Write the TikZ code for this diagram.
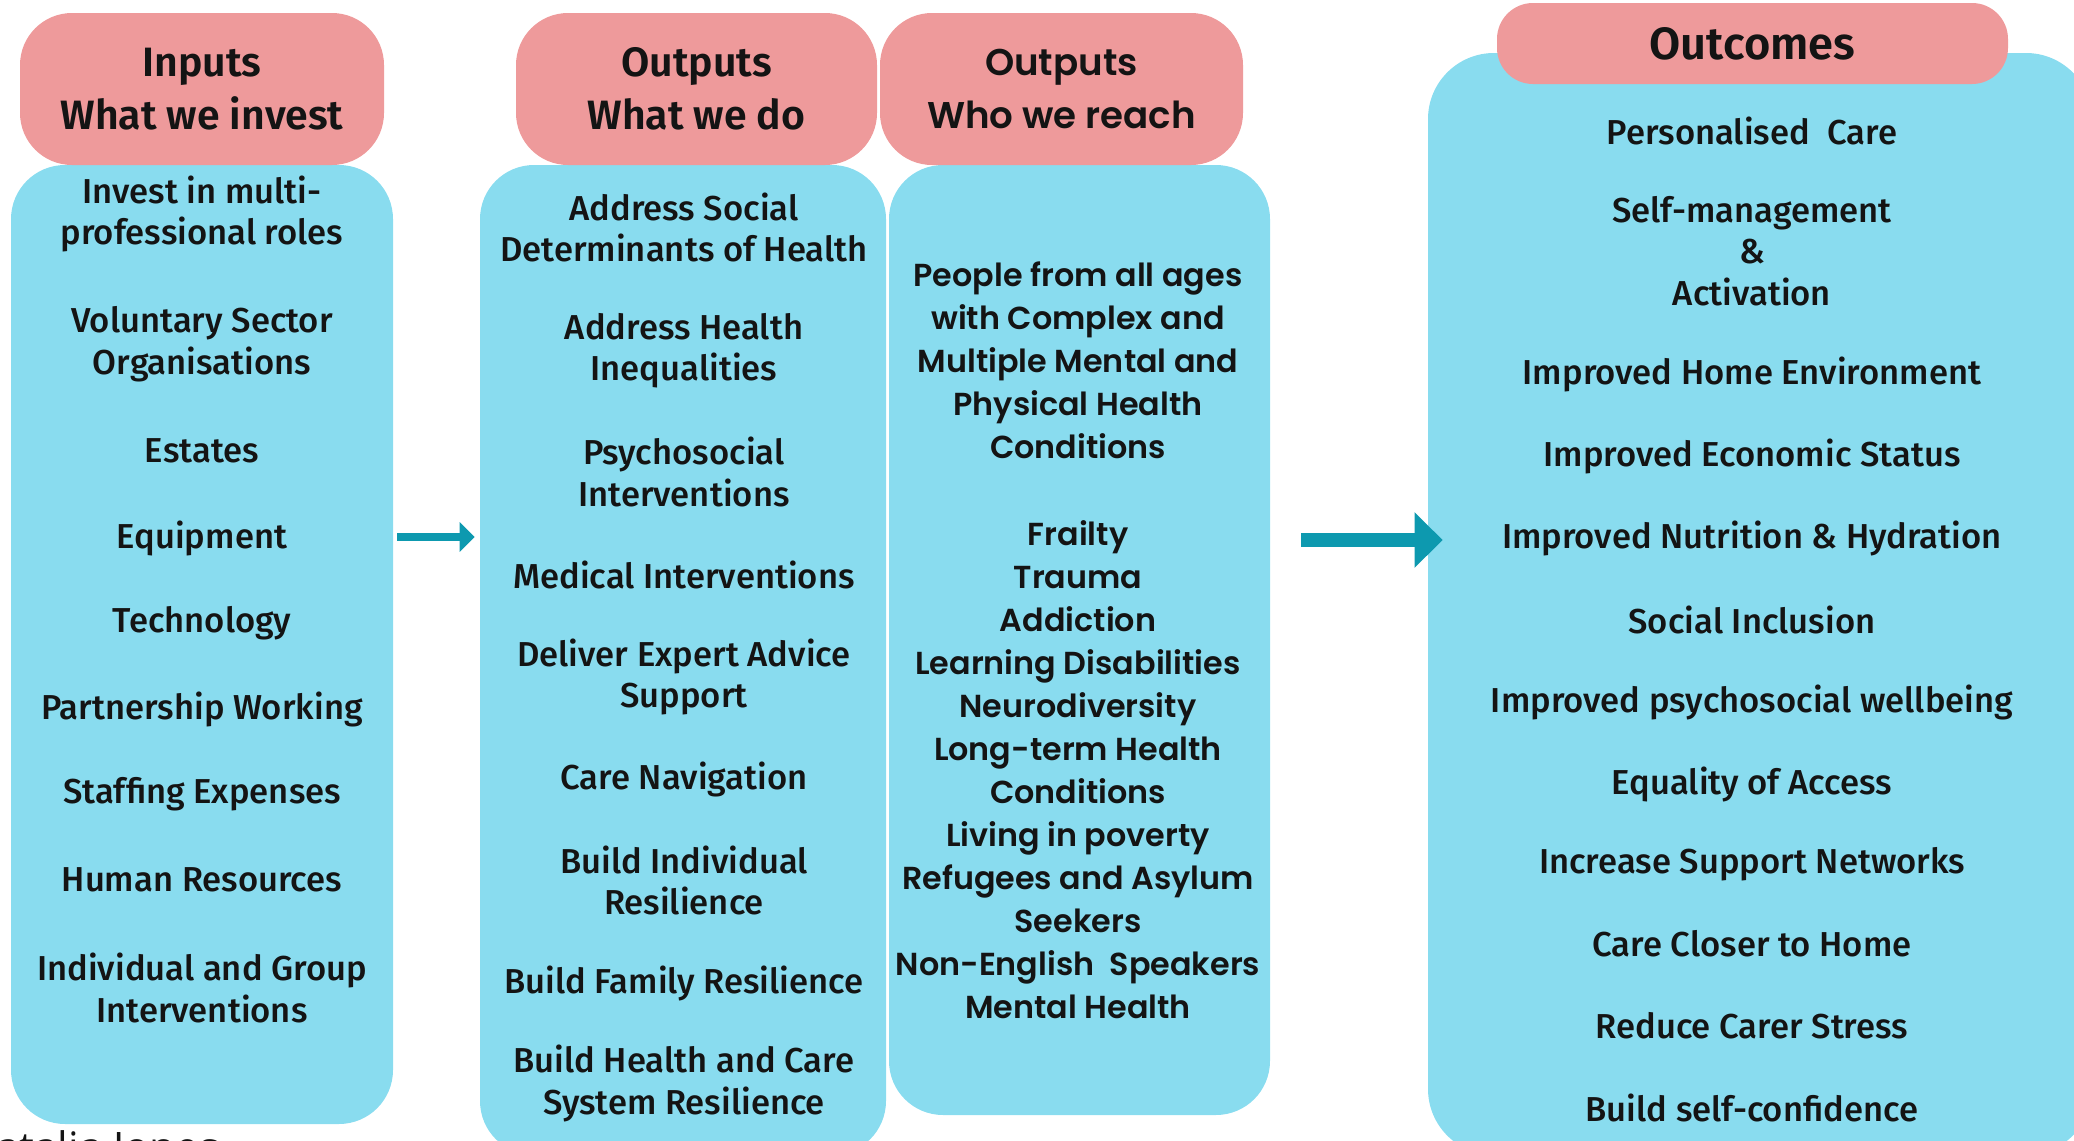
\documentclass[tikz,border=0pt]{standalone}
\usepackage{fontspec}
\setmainfont{Fira Sans}
\newfontfamily\condfont{Fira Sans Medium}
\newfontfamily\headfont{Fira Sans SemiBold}
\newfontfamily\geofont{Poppins SemiBold}
\newfontfamily\geohead{Poppins SemiBold}
\newfontfamily\signfont{Open Sans}
\usetikzlibrary{arrows.meta}
\definecolor{headpink}{HTML}{EE9A9B}
\definecolor{bodyblue}{HTML}{89DCEF}
\definecolor{arrowteal}{HTML}{0D99AF}
\definecolor{ink}{HTML}{141414}

\begin{document}
\begin{tikzpicture}[x=0.5pt, y=-0.5pt]
			\tikzset{head/.style={fill=headpink, rounded corners=26pt, inner sep=0pt, align=center, text=ink, font=\headfont\fontsize{20.5}{26.5}\selectfont},
			body/.style={fill=bodyblue, rounded corners=27pt, inner sep=0pt},
			item/.style={align=center, text=ink, inner sep=0pt, font=\condfont\fontsize{17.3}{20.75}\selectfont},
			geoitem/.style={item, font=\geofont\fontsize{15.9}{21.5}\selectfont},
			f/.style={-{Triangle[length=7.5pt, width=14.5pt]}, line width=4pt, draw=arrowteal},
			bigf/.style={-{Triangle[length=14pt, width=27pt]}, line width=7pt, draw=arrowteal}};

			\useasboundingbox (0,0) rectangle (2074,1141);
			\clip (0,0) rectangle (2074,1141);

			% the four columns
			\node[body, minimum width=191pt, minimum height=479.5pt] (inputs) at (202,644.5) {};
			\node[body, minimum width=203pt, minimum height=495pt] (doing) at (683,660) {};
			\node[body, minimum width=190.5pt, minimum height=475pt] (reach) at (1079.5,640) {};
			\node[body, rounded corners=33pt, minimum width=332pt, minimum height=551pt] (outcomes) at (1760,604) {};

			\node[head, minimum width=182pt, minimum height=76pt] (inputshead) at (202,89) {Inputs\\What we invest};
			\node[head, minimum width=180.5pt, minimum height=76pt] (doinghead) at (696.5,89) {Outputs\\What we do};
			\node[head, minimum width=181.5pt, minimum height=76pt, font=\geohead\fontsize{18.6}{26.5}\selectfont] (reachhead) at (1061.5,89) {Outputs\\Who we reach};
			\node[head, rounded corners=18pt, minimum width=255.5pt, minimum height=40.5pt, font=\headfont\fontsize{22.6}{24}\selectfont] (outcomeshead) at (1752.5,43.5) {Outcomes};

			% inputs
			\node[item] (in1) at (202,214) {Invest in multi-\\professional roles};
			\node[item] (in2) at (202,344) {Voluntary Sector\\Organisations};
			\node[item] (in3) at (202,451) {Estates};
			\node[item] (in4) at (202,538) {Equipment};
			\node[item] (in5) at (202,623) {Technology};
			\node[item] (in6) at (202,709) {Partnership Working};
			\node[item] (in7) at (202,794) {Staffing Expenses};
			\node[item] (in8) at (202,880) {Human Resources};
			\node[item] (in9) at (202,988) {Individual and Group\\Interventions};

			% what we do
			\node[item] (do1) at (684,227.5) {Address Social\\Determinants of Health};
			\node[item] (do2) at (684,350.5) {Address Health\\Inequalities};
			\node[item] (do3) at (684,472) {Psychosocial\\Interventions};
			\node[item] (do4) at (684,575) {Medical Interventions};
			\node[item] (do5) at (684,677) {Deliver Expert Advice\\Support};
			\node[item] (do6) at (684,779) {Care Navigation};
			\node[item] (do7) at (684,880.5) {Build Individual\\Resilience};
			\node[item] (do8) at (684,983) {Build Family Resilience};
			\node[item] (do9) at (684,1083.5) {Build Health and Care\\System Resilience};

			% who we reach
			\node[geoitem] (who1) at (1078,360.5) {People from all ages\\with Complex and\\Multiple Mental and\\Physical Health\\Conditions};
			\node[geoitem] (who2) at (1078,770) {Frailty\\Trauma\\Addiction\\Learning Disabilities\\Neurodiversity\\Long-term Health\\Conditions\\Living in poverty\\Refugees and Asylum\\Seekers\\Non-English~ Speakers\\Mental Health};

			% outcomes
			\node[item] (out1) at (1752,131) {Personalised~ Care};
			\node[item] (out2) at (1752,251) {Self-management\\\&\\Activation};
			\node[item] (out3) at (1752,374) {Improved Home Environment};
			\node[item] (out4) at (1752,456) {Improved Economic Status};
			\node[item] (out5) at (1752,538) {Improved Nutrition \& Hydration};
			\node[item] (out6) at (1752,620) {Social Inclusion};
			\node[item] (out7) at (1752,702) {Improved psychosocial wellbeing};
			\node[item] (out8) at (1752,784) {Equality of Access};
			\node[item] (out9) at (1752,864) {Increase Support Networks};
			\node[item] (out10) at (1752,944) {Care Closer to Home};
			\node[item] (out11) at (1752,1026) {Reduce Carer Stress};
			\node[item] (out12) at (1752,1108) {Build self-confidence};

			\node[anchor=north west, inner sep=0pt, text=ink, font=\signfont\fontsize{21}{23}\selectfont] (sign) at (-4,1130) {atalia Jones};

			\coordinate (smallrow) at (0,537);
			\coordinate (bigrow) at (0,540);
			\draw[f, shorten <=2pt, shorten >=2.5pt] (inputs.east |- smallrow) -- (doing.west |- smallrow);
			\draw[bigf, shorten <=15.5pt, shorten >=-7.5pt] (reach.east |- bigrow) -- (outcomes.west |- bigrow);
		\end{tikzpicture}
\end{document}
